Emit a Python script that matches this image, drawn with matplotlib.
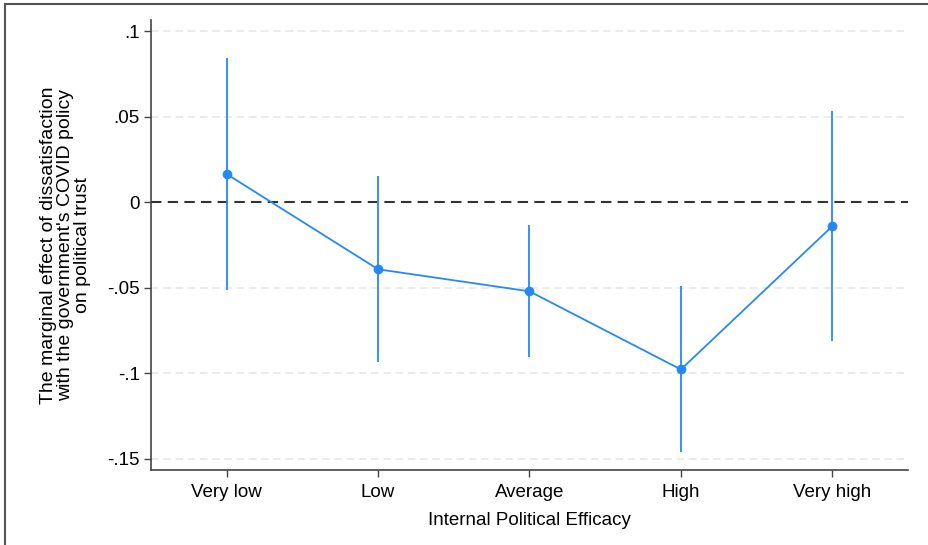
#!/usr/bin/env python3
"""Marginal effect of COVID-policy dissatisfaction on political trust, by efficacy level."""

import matplotlib
matplotlib.use("Agg")
import matplotlib.pyplot as plt
from matplotlib.lines import Line2D

CATEGORIES = ["Very low", "Low", "Average", "High", "Very high"]
EFFECT = [0.0165, -0.0392, -0.0521, -0.0978, -0.0140]
CI_LOW = [-0.0515, -0.0937, -0.0907, -0.1458, -0.0814]
CI_HIGH = [0.0843, 0.0152, -0.0133, -0.0492, 0.0533]
Y_TICKS = [-0.15, -0.1, -0.05, 0, 0.05, 0.1]
Y_TICK_LABELS = ["-.15", "-.1", "-.05", "0", ".05", ".1"]

BLUE = "#2589f5"


def main():
    plt.rcParams.update({"font.family": ["Liberation Sans", "DejaVu Sans"]})

    fig = plt.figure(figsize=(9.29, 5.45), dpi=100, facecolor="white")
    ax = fig.add_axes([0.1625, 0.1376, 0.8149, 0.8257])

    x = list(range(1, len(CATEGORIES) + 1))

    for val in Y_TICKS:
        if val == 0:
            continue
        ax.axhline(val, color="#e6e6e6", linewidth=1.1, dashes=(5, 3), zorder=0)
    ax.axhline(0, color="#333333", linewidth=1.5, dashes=(5, 3), zorder=1)

    ax.vlines(x, CI_LOW, CI_HIGH, color=BLUE, linewidth=1.3, zorder=2)
    ax.plot(x, EFFECT, color=BLUE, linewidth=1.3, marker="o", markersize=6, zorder=3)

    ax.set_xlim(0.5, 5.5)
    ax.set_ylim(-0.1566, 0.1066)
    ax.set_xticks(x)
    ax.set_xticklabels(CATEGORIES)
    ax.set_yticks(Y_TICKS)
    ax.set_yticklabels(Y_TICK_LABELS)

    for side in ("top", "right"):
        ax.spines[side].set_visible(False)
    for side in ("left", "bottom"):
        ax.spines[side].set_color("#444444")
        ax.spines[side].set_linewidth(1.2)
    ax.tick_params(axis="both", direction="out", length=5, width=1.0,
                   color="#444444", labelsize=13.5, labelcolor="black")
    ax.tick_params(axis="y", pad=3)
    ax.tick_params(axis="x", pad=5)

    ax.set_xlabel("Internal Political Efficacy", fontsize=13.5, labelpad=8)
    ax.set_ylabel("The marginal effect of dissatisfaction\n"
                  "with the government's COVID policy\n"
                  "on political trust",
                  fontsize=14, linespacing=1.0, labelpad=12)

    # outer frame (top and left edges visible)
    fig.add_artist(Line2D([5 / 929, 1], [1 - 4 / 545, 1 - 4 / 545],
                          transform=fig.transFigure, color="#555555", linewidth=1.5))
    fig.add_artist(Line2D([5 / 929, 5 / 929], [0, 1 - 4 / 545],
                          transform=fig.transFigure, color="#555555", linewidth=1.5))

    fig.savefig("out.png", dpi=100)
    plt.close(fig)


if __name__ == "__main__":
    main()
